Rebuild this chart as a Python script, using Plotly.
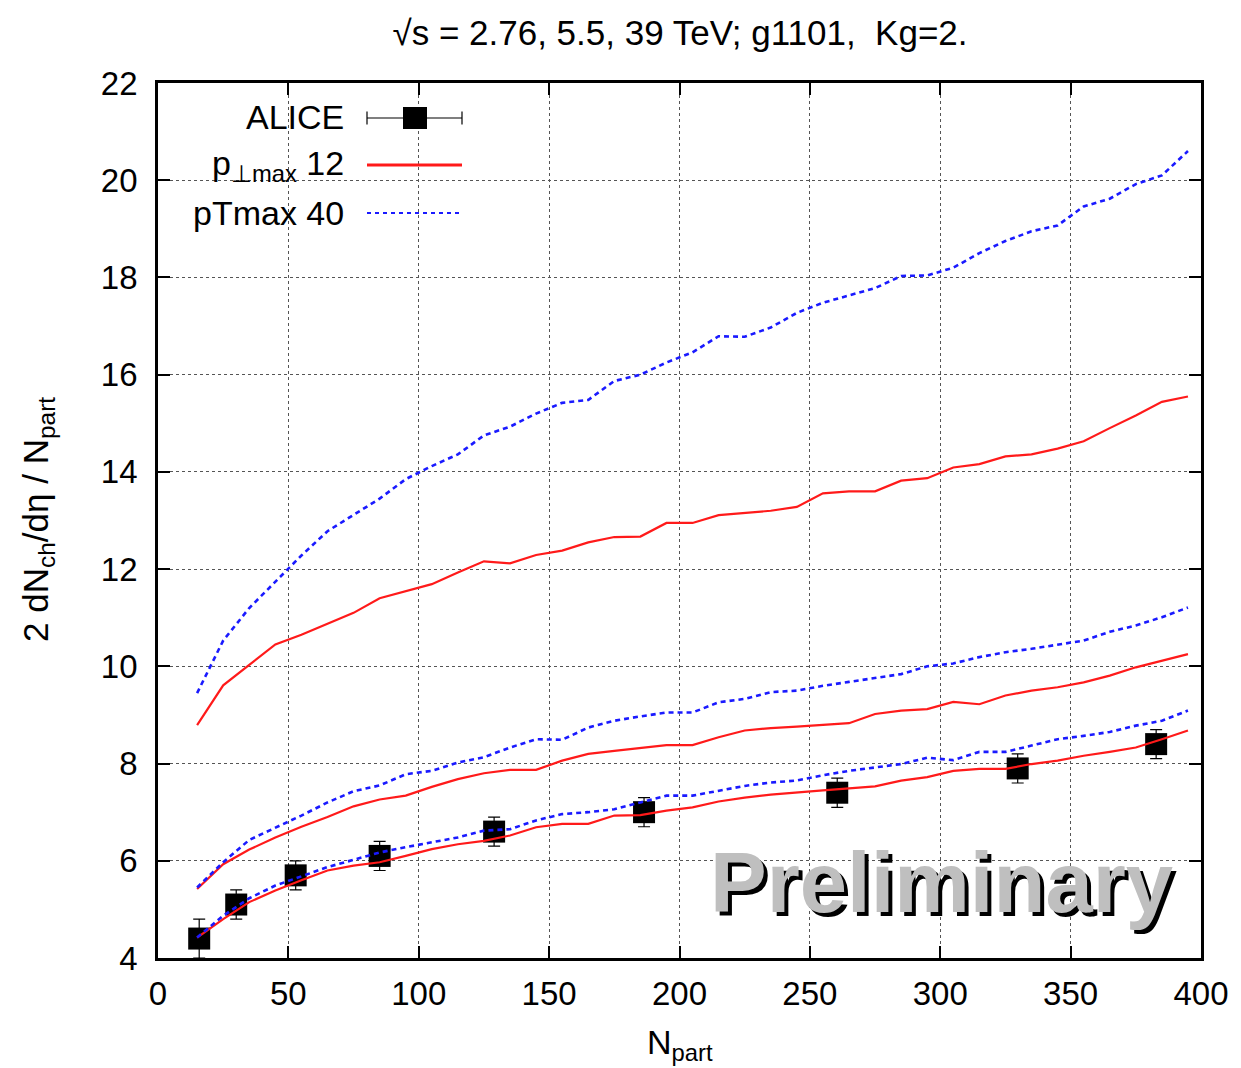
import plotly.graph_objects as go

# Npart grid of the model curves
npart = [15, 25, 35, 45, 55, 65, 75, 85, 95, 105, 115, 125, 135, 145, 155,
         165, 175, 185, 195, 205, 215, 225, 235, 245, 255, 265, 275, 285,
         295, 305, 315, 325, 335, 345, 355, 365, 375, 385, 395]

# 39 TeV
pt40_39 = [9.45, 10.53, 11.2, 11.75, 12.28, 12.78, 13.12, 13.45, 13.85, 14.12,
           14.36, 14.75, 14.93, 15.2, 15.42, 15.48, 15.87, 16.0, 16.25, 16.46,
           16.79, 16.78, 16.97, 17.27, 17.48, 17.63, 17.78, 18.03, 18.04, 18.2,
           18.5, 18.75, 18.95, 19.07, 19.46, 19.62, 19.92, 20.1, 20.6]
pt12_39 = [8.79, 9.61, 10.03, 10.45, 10.65, 10.87, 11.1, 11.4, 11.55, 11.69,
           11.93, 12.16, 12.12, 12.29, 12.38, 12.55, 12.66, 12.67, 12.95, 12.95,
           13.11, 13.15, 13.2, 13.28, 13.56, 13.6, 13.6, 13.82, 13.87, 14.09,
           14.16, 14.32, 14.36, 14.48, 14.63, 14.9, 15.16, 15.44, 15.55]
# 5.5 TeV
pt40_55 = [5.45, 5.97, 6.43, 6.68, 6.93, 7.2, 7.43, 7.55, 7.78, 7.85,
           8.02, 8.13, 8.33, 8.5, 8.49, 8.74, 8.88, 8.97, 9.05, 9.05,
           9.26, 9.33, 9.47, 9.5, 9.6, 9.68, 9.76, 9.84, 10.0, 10.06,
           10.19, 10.29, 10.36, 10.44, 10.53, 10.71, 10.84, 11.01, 11.21]
pt12_55 = [5.42, 5.93, 6.23, 6.48, 6.7, 6.9, 7.12, 7.26, 7.34, 7.52,
           7.68, 7.8, 7.87, 7.87, 8.06, 8.2, 8.26, 8.32, 8.38, 8.38,
           8.54, 8.68, 8.73, 8.76, 8.79, 8.83, 9.02, 9.09, 9.12, 9.27,
           9.22, 9.4, 9.5, 9.57, 9.67, 9.81, 9.98, 10.12, 10.25]
# 2.76 TeV
pt40_276 = [4.42, 4.87, 5.23, 5.49, 5.68, 5.87, 6.02, 6.17, 6.28, 6.38,
            6.48, 6.62, 6.65, 6.83, 6.96, 7.0, 7.06, 7.2, 7.34, 7.34,
            7.44, 7.54, 7.61, 7.65, 7.76, 7.85, 7.92, 7.99, 8.12, 8.07,
            8.24, 8.24, 8.37, 8.5, 8.57, 8.65, 8.78, 8.88, 9.09]
pt12_276 = [4.42, 4.8, 5.15, 5.39, 5.6, 5.8, 5.9, 5.97, 6.1, 6.24,
            6.34, 6.41, 6.52, 6.69, 6.76, 6.76, 6.93, 6.94, 7.03, 7.1,
            7.22, 7.3, 7.36, 7.41, 7.45, 7.49, 7.53, 7.65, 7.72, 7.85,
            7.89, 7.89, 7.99, 8.06, 8.16, 8.24, 8.33, 8.5, 8.68]

# ALICE Pb-Pb 2.76 TeV
alice_npart = [15.8, 30.0, 52.8, 85.0, 128.9, 186.4, 260.5, 329.7, 382.8]
alice_val = [4.4, 5.1, 5.7, 6.1, 6.6, 7.0, 7.4, 7.9, 8.4]
alice_err = [0.4, 0.3, 0.3, 0.3, 0.3, 0.3, 0.3, 0.3, 0.3]

x_ticks = [0, 50, 100, 150, 200, 250, 300, 350, 400]
y_ticks = [4, 6, 8, 10, 12, 14, 16, 18, 20, 22]

FONT = "Liberation Sans, Arial, sans-serif"
RED = "#ff1a1a"
BLUE = "#1a1aff"
BLUE_DASH = "5px,4px"

fig = go.Figure()

fig.add_trace(go.Scatter(
    x=alice_npart, y=alice_val, mode="markers",
    marker=dict(symbol="square", size=22, color="black"),
    error_y=dict(type="data", array=alice_err, color="black", thickness=1.2, width=6),
    showlegend=False))

for series in (pt12_39, pt12_55, pt12_276):
    fig.add_trace(go.Scatter(x=npart, y=series, mode="lines",
                             line=dict(color=RED, width=2.2),
                             showlegend=False))
for series in (pt40_39, pt40_55, pt40_276):
    fig.add_trace(go.Scatter(x=npart, y=series, mode="lines",
                             line=dict(color=BLUE, width=2.6, dash=BLUE_DASH),
                             showlegend=False))

axis_common = dict(
    showline=True, linecolor="black", linewidth=2.8, mirror="ticks",
    ticks="inside", ticklen=12, tickwidth=2, tickcolor="black",
    showgrid=True, gridcolor="#555555", gridwidth=1, griddash="dot",
    zeroline=False, tickfont=dict(family=FONT, size=33, color="black"),
)
fig.update_xaxes(range=[0, 400], tickvals=x_ticks, ticklabelstandoff=4, **axis_common)
fig.update_yaxes(range=[4, 22], tickvals=y_ticks, ticklabelstandoff=11, **axis_common)

# plot-area geometry (pixels) used for the hand-built key
L, R, T, B = 158, 1201, 83, 958
W, H = R - L, B - T


def px(xp):
    return (xp - L) / W


def py(yp):
    return (B - yp) / H


shapes = [
    # blank area behind the key
    dict(type="rect", xref="paper", yref="paper", x0=0, x1=px(481), y0=py(237), y1=1,
         fillcolor="white", line=dict(width=0), layer="between"),
    # ALICE key: horizontal bar with end caps and square
    dict(type="line", xref="paper", yref="paper", x0=px(367), x1=px(462), y0=py(118), y1=py(118),
         line=dict(color="black", width=1.2)),
    dict(type="line", xref="paper", yref="paper", x0=px(367), x1=px(367), y0=py(111.5), y1=py(124.5),
         line=dict(color="black", width=1.2)),
    dict(type="line", xref="paper", yref="paper", x0=px(462), x1=px(462), y0=py(111.5), y1=py(124.5),
         line=dict(color="black", width=1.2)),
    dict(type="rect", xref="paper", yref="paper", x0=px(403), x1=px(427), y0=py(129), y1=py(107),
         fillcolor="black", line=dict(width=0)),
    # model keys
    dict(type="line", xref="paper", yref="paper", x0=px(367), x1=px(462), y0=py(165), y1=py(165),
         line=dict(color=RED, width=3)),
    dict(type="line", xref="paper", yref="paper", x0=px(367), x1=px(459), y0=py(213), y1=py(213),
         line=dict(color=BLUE, width=1.8, dash="4px,4px")),
]

lab_font = dict(family=FONT, size=34, color="black")
annotations = [
    dict(text="ALICE", x=px(346), y=py(117), xref="paper", yref="paper",
         xanchor="right", yanchor="middle", showarrow=False, font=lab_font),
    dict(text="p<sub>\u22a5max</sub> 12", x=px(346), y=py(165), xref="paper", yref="paper",
         xanchor="right", yanchor="middle", showarrow=False, font=lab_font),
    dict(text="pTmax 40", x=px(346), y=py(213), xref="paper", yref="paper",
         xanchor="right", yanchor="middle", showarrow=False, font=lab_font),
    # axis titles
    dict(text="2 dN<sub>ch</sub>/d\u03b7 / N<sub>part</sub>", x=px(38), y=py(520),
         xref="paper", yref="paper", textangle=-90, xanchor="center", yanchor="middle",
         showarrow=False, font=dict(family=FONT, size=35, color="black")),
    dict(text="N<sub>part</sub>", x=px(680), y=py(1044), xref="paper", yref="paper",
         xanchor="center", yanchor="middle", showarrow=False,
         font=dict(family=FONT, size=34, color="black")),
    # watermark with drop shadow
    dict(text="<b>Preliminary</b>", x=px(708), y=py(882), xref="paper", yref="paper",
         xanchor="left", yanchor="middle", showarrow=False, xshift=4, yshift=-4,
         font=dict(family=FONT, size=85, color="black")),
    dict(text="<b>Preliminary</b>", x=px(708), y=py(882), xref="paper", yref="paper",
         xanchor="left", yanchor="middle", showarrow=False,
         font=dict(family=FONT, size=85, color="#bfbfbf")),
]

fig.update_layout(
    width=1241, height=1068,
    margin=dict(l=L, r=1241 - R, t=T, b=1068 - B),
    paper_bgcolor="white", plot_bgcolor="white",
    title=dict(text="\u221as = 2.76, 5.5, 39 TeV; g1101,\u00a0 Kg=2.",
               x=px(680), xref="paper", xanchor="center",
               y=1 - 33 / 1068, yref="container", yanchor="middle",
               font=dict(family=FONT, size=35, color="black")),
    shapes=shapes, annotations=annotations,
    showlegend=False,
)

fig.write_html("out.html")
